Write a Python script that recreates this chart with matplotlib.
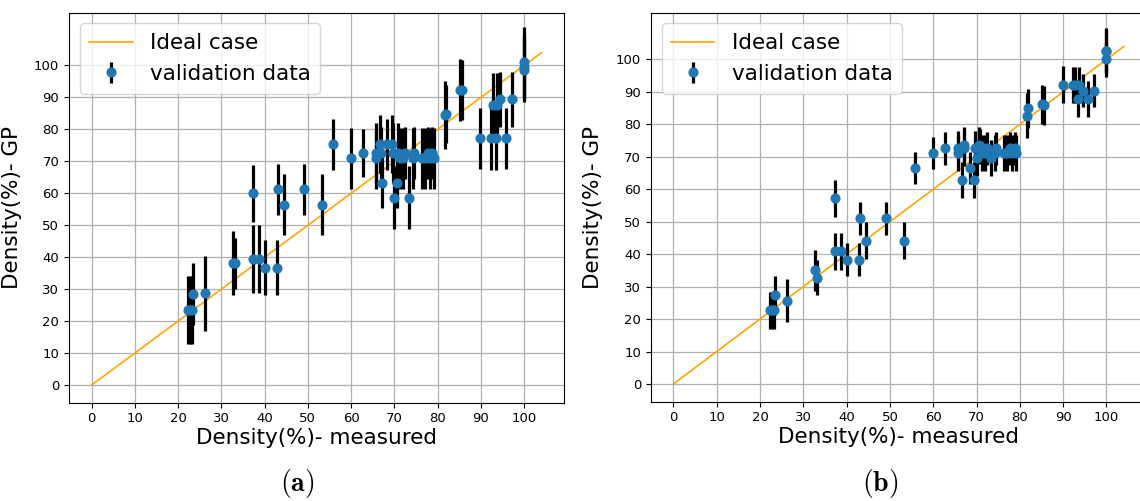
import matplotlib
matplotlib.use("Agg")
import matplotlib.pyplot as plt

plt.rcParams['font.family'] = ['DejaVu Sans']
plt.rcParams['mathtext.fontset'] = 'cm'

# measured density (%) - shared by both panels
measured = [22.3, 22.8, 23.2, 23.5, 26.2, 32.7, 33.2, 37.4, 37.4, 38.6, 40.2, 42.8,
            43.1, 44.6, 49.0, 53.2, 55.8, 60.0, 62.7, 65.7, 65.8, 66.7, 67.0, 67.1,
            68.4, 69.5, 69.6, 70.0, 70.5, 70.8, 71.2, 72.0, 72.5, 73.4, 74.2, 74.5,
            76.4, 77.0, 77.8, 78.3, 78.8, 79.2, 81.6, 81.9, 85.2, 85.6, 89.9, 92.3,
            92.8, 93.4, 93.7, 94.5, 95.7, 97.1, 99.9, 100.0, 100.0]

# panel (a) GP predictions and error
gp_a = [23.5, 23.5, 23.5, 28.5, 28.7, 38.1, 38.1, 60.0, 39.5, 39.5, 36.7, 36.7,
        61.3, 56.5, 61.3, 56.5, 75.4, 71.0, 72.6, 72.6, 71.0, 75.4, 72.6, 63.3,
        75.4, 75.4, 72.6, 58.6, 63.3, 72.6, 71.0, 71.0, 72.6, 58.6, 71.0, 72.6,
        71.0, 71.0, 72.6, 71.0, 72.6, 71.0, 84.5, 84.8, 92.3, 92.3, 77.2, 77.2,
        87.5, 77.2, 87.5, 89.4, 77.2, 89.4, 101.0, 99.6, 98.7]
err_a = [10.5, 10.5, 10.5, 9.8, 11.8, 10.0, 8.0, 9.0, 10.6, 10.6, 8.6, 8.6,
         8.0, 9.6, 8.0, 9.6, 8.0, 9.5, 7.6, 9.5, 9.5, 9.0, 8.0, 8.0,
         8.0, 9.0, 9.5, 9.8, 8.0, 9.5, 9.5, 9.5, 8.0, 9.8, 9.5, 8.0,
         9.5, 9.5, 8.0, 9.5, 8.0, 9.5, 10.5, 9.0, 9.8, 9.5, 9.6, 10.0,
         10.0, 9.8, 10.0, 8.5, 9.5, 8.5, 11.0, 10.0, 10.0]

# panel (b) GP predictions and error
gp_b = [22.8, 22.8, 22.8, 27.3, 25.7, 35.0, 32.8, 57.3, 40.9, 40.9, 38.3, 38.3,
        51.0, 44.2, 51.0, 44.2, 66.5, 71.2, 72.6, 72.6, 71.2, 62.8, 73.7, 72.6,
        66.5, 62.8, 72.6, 69.6, 73.7, 73.2, 71.2, 71.2, 72.6, 69.6, 71.2, 72.6,
        71.2, 71.2, 72.6, 71.2, 72.6, 71.2, 82.7, 85.0, 86.2, 85.9, 92.2, 92.2,
        92.2, 87.9, 92.2, 90.4, 87.9, 90.4, 102.7, 102.5, 100.2]
err_b = [5.7, 5.7, 5.7, 6.0, 6.5, 6.2, 5.5, 5.7, 5.7, 5.7, 5.0, 5.0,
         5.0, 5.6, 5.0, 5.6, 5.0, 5.0, 5.0, 5.5, 5.5, 5.5, 5.5, 5.5,
         5.0, 5.5, 5.5, 5.5, 5.5, 5.5, 5.5, 5.5, 5.0, 5.5, 5.5, 5.0,
         5.5, 5.5, 5.0, 5.5, 5.0, 5.5, 7.0, 6.0, 6.0, 6.0, 5.7, 5.5,
         5.5, 5.5, 5.5, 5.0, 5.5, 5.0, 7.0, 6.5, 5.5]

ideal_x = [0, 104]
ticks = list(range(0, 101, 10))
xlabel = "Density(%)- measured"
ylabel = "Density(%)- GP"

W, H = 1140, 501
fig = plt.figure(figsize=(W / 100, H / 100), dpi=100)


def make_axes(x0, x1, ytop, ybot):
    return fig.add_axes([x0 / W, 1 - ybot / H, (x1 - x0) / W, (ybot - ytop) / H])


panels = [
    (make_axes(69, 564, 12.7, 402.7), gp_a, err_a, (-5.5, 116.5), "(a)", 297),
    (make_axes(650.8, 1146.3, 12.7, 401.7), gp_b, err_b, (-5.45, 114.4), "(b)", 880),
]

for ax, gp, err, ylim, tag, tag_x in panels:
    ax.set_axisbelow(True)
    ax.grid(True, color='#b0b0b0', linewidth=0.9)
    ax.plot(ideal_x, ideal_x, color='orange', linewidth=1.2, label='Ideal case')
    ax.errorbar(measured, gp, yerr=err, fmt='o', color='#1f77b4', ecolor='black',
                elinewidth=2.3, markersize=6.3, label='validation data')
    ax.set_xlim(-5.2, 109.2)
    ax.set_ylim(*ylim)
    ax.set_xticks(ticks)
    ax.set_yticks(ticks)
    ax.tick_params(labelsize=9.5)
    ax.set_xlabel(xlabel, fontsize=15.5, labelpad=2)
    ax.set_ylabel(ylabel, fontsize=15.5, labelpad=9)
    ax.legend(loc='upper left', fontsize=15.5, handlelength=2.0, borderaxespad=0.5,
              borderpad=0.45, framealpha=0.8)
    fig.text(tag_x / W, 1 - 483 / H, r'$\mathbf{' + tag + '}$', fontsize=20,
             ha='center', va='center')

fig.savefig("out.png", dpi=100)
